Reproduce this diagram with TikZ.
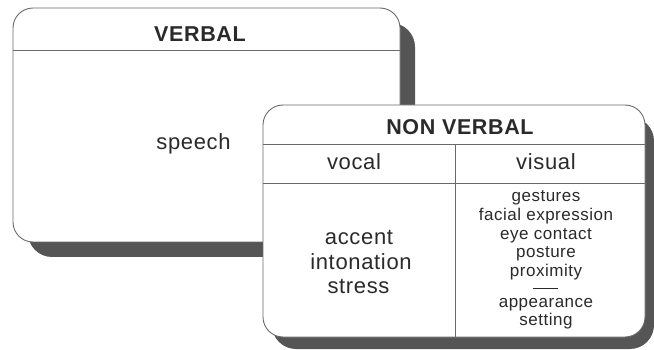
\documentclass[tikz,border=0pt]{standalone}
\usepackage{fontspec}
\setmainfont{Liberation Sans}[LetterSpace=3]
\definecolor{linegray}{HTML}{6A6A6A}
\definecolor{shadowgray}{HTML}{555555}
\definecolor{textcol}{HTML}{2A2A2A}
\begin{document}
\begin{tikzpicture}[x=1pt,y=-1pt,
  panel/.style={draw=linegray, line width=0.9pt, fill=white, rounded corners=20pt, inner sep=0pt, outer sep=0pt},
  shadowpanel/.style={fill=shadowgray, rounded corners=24pt, inner sep=0pt, outer sep=0pt},
  divider/.style={draw=linegray, line width=0.8pt},
  headtext/.style={font=\fontsize{21.5}{24}\selectfont\bfseries, text=textcol, anchor=base, inner sep=0pt},
  bigtext/.style={font=\fontsize{22}{25}\selectfont, text=textcol, anchor=base, inner sep=0pt, align=center},
  smalltext/.style={font=\fontsize{17}{18.4}\selectfont, text=textcol, anchor=base, inner sep=0pt, align=center}]
\useasboundingbox (0,0) rectangle (654,350);
% VERBAL panel
\node[shadowpanel, minimum width=387pt, minimum height=234pt] (verbalshadow) at (221.5,140) {};
\node[panel, minimum width=387pt, minimum height=234pt] (verbal) at (206.5,125) {};
\draw[divider] (verbal.west |- 0,50) -- (verbal.east |- 0,50);
\node[headtext] (verbaltitle) at (200,41.5) {VERBAL};
\node[bigtext] (speech) at (193.5,150) {speech};
% NON VERBAL panel
\node[shadowpanel, minimum width=382pt, minimum height=232pt] (nvshadow) at (463,233) {};
\node[panel, minimum width=382pt, minimum height=232pt] (nonverbal) at (454,221) {};
\draw[divider] (nonverbal.west |- 0,144) -- (nonverbal.east |- 0,144);
\draw[divider] (nonverbal.west |- 0,183) -- (nonverbal.east |- 0,183);
\coordinate (coltop) at (455,144);
\draw[divider] (coltop) -- (coltop |- nonverbal.south);
\node[headtext] (nvtitle) at (460,135) {NON VERBAL};
\node[bigtext] (vocal) at (354,170) {vocal};
\node[bigtext] (visual) at (546,170) {visual};
\node[bigtext] (accent) at (359,244) {accent};
\node[bigtext] (intonation) at (361,269.5) {intonation};
\node[bigtext] (stress) at (358.5,294) {stress};
\node[smalltext] (gestures) at (546,201.7) {gestures};
\node[smalltext] (facial) at (546,221) {facial expression};
\node[smalltext] (eye) at (546,239.3) {eye contact};
\node[smalltext] (posture) at (546,257.7) {posture};
\node[smalltext] (proximity) at (546,276.5) {proximity};
\node[smalltext] (sep) at (545.5,289.3) {\rule{25pt}{0.9pt}};
\node[smalltext] (appearance) at (546,307.3) {appearance};
\node[smalltext] (setting) at (546,325.7) {setting};
\end{tikzpicture}
\end{document}
